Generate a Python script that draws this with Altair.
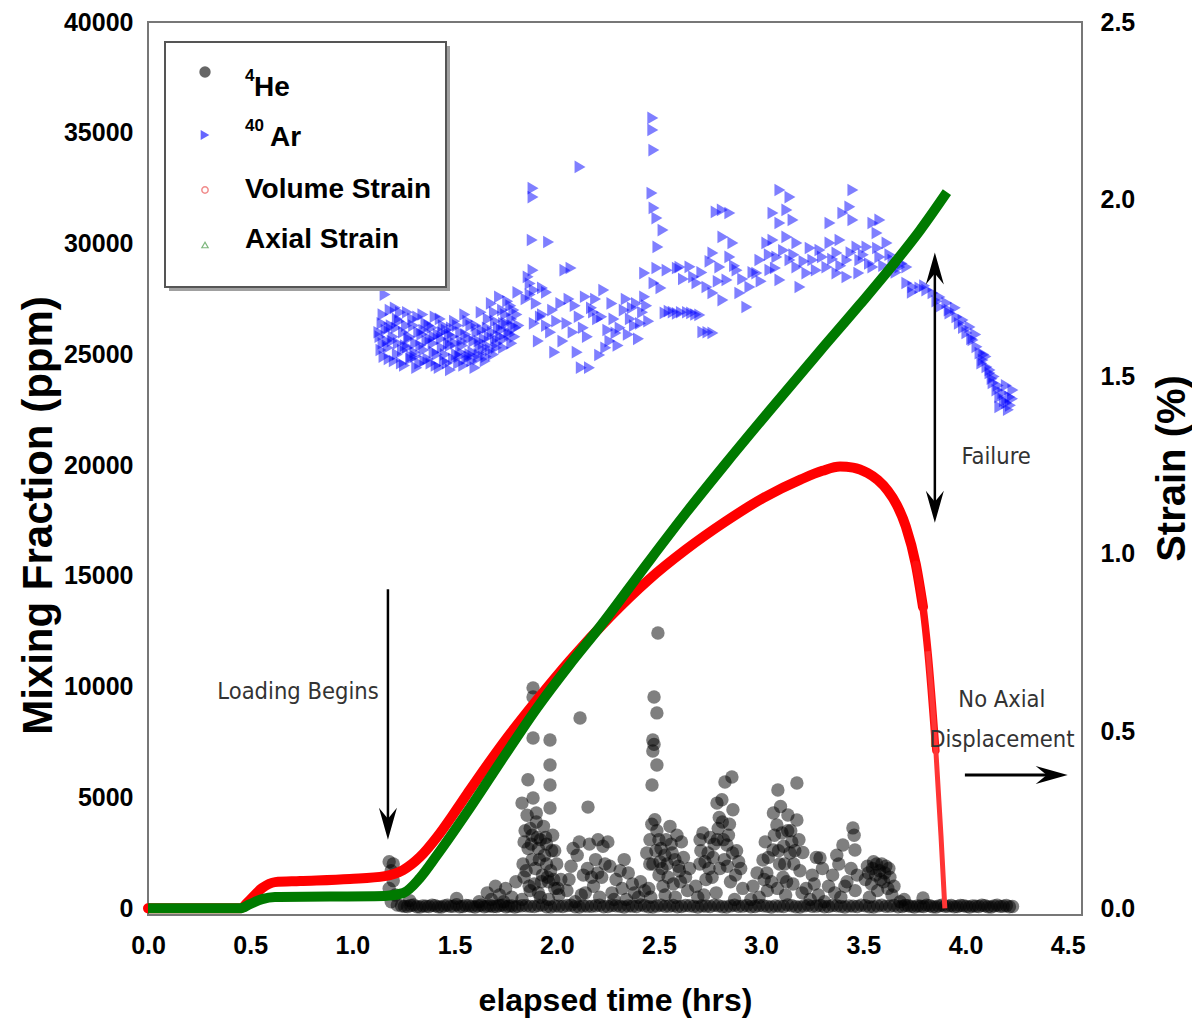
import altair as alt
import pandas as pd

# ---------------- data ----------------
volume_time = [0.0, 0.45, 0.499, 0.558, 0.621, 0.744, 0.988, 1.159, 1.248, 1.331, 1.414, 1.502,
               1.575, 1.737, 1.903, 2.065, 2.260, 2.446, 2.632, 2.823, 3.009, 3.195, 3.300, 3.386,
               3.450, 3.520, 3.571, 3.620, 3.664, 3.708, 3.757, 3.792, 3.816, 3.855, 3.880, 3.899]
volume_strain = [0.0, 0.0, 0.024, 0.057, 0.074, 0.077, 0.083, 0.091, 0.108, 0.145, 0.201, 0.272,
                 0.334, 0.466, 0.588, 0.700, 0.822, 0.925, 1.012, 1.090, 1.157, 1.210, 1.234, 1.246,
                 1.243, 1.228, 1.208, 1.178, 1.138, 1.077, 0.970, 0.850, 0.725, 0.445, 0.205, 0.0]

axial_time = [0.0, 0.45, 0.499, 0.558, 0.621, 1.159, 1.248, 1.331, 1.414, 1.575, 1.737, 1.903,
              2.065, 2.211, 2.446, 2.632, 2.823, 3.043, 3.288, 3.483, 3.645, 3.777, 3.909]
axial_strain = [0.0, 0.0, 0.012, 0.026, 0.032, 0.035, 0.043, 0.086, 0.150, 0.283, 0.424, 0.565,
                0.689, 0.794, 0.975, 1.115, 1.252, 1.405, 1.572, 1.703, 1.815, 1.912, 2.020]

# 4He mixing fraction (hrs, ppm)
he_points = [
    # loading cluster
    (1.18, 2100), (1.19, 1700), (1.20, 1250), (1.18, 900), (1.21, 600), (1.19, 300), (1.22, 150), (1.20, 2000),
    # small bumps
    (1.28, 350), (1.51, 450), (1.62, 300), (1.66, 700), (1.70, 1000), (1.72, 600), (1.75, 900), (1.78, 500),
    (1.80, 1200), (1.74, 300), (1.68, 400),
    # burst 1
    (1.830, 4750), (1.859, 5800), (1.884, 4980), (1.884, 7690), (1.884, 9950), (1.884, 9540), (1.967, 7600),
    (1.967, 6470), (1.967, 5570), (1.967, 4530), (1.90, 3900), (1.87, 3600), (1.92, 3100), (1.94, 2400),
    (1.85, 1700), (1.97, 1700), (2.02, 1300), (1.89, 1100), (1.99, 900), (1.83, 400), (1.95, 2900),
    (1.88, 2200), (1.93, 1500), (1.86, 2700), (1.91, 700), (1.96, 400), (2.00, 2000), (1.84, 3000),
    (1.98, 3300), (1.90, 4300), (1.88, 3300), (1.935, 3700), (1.95, 2000), (1.87, 800), (1.92, 500),
    (2.01, 600), (1.84, 1400), (1.99, 2600), (1.96, 1200), (1.91, 2700),
    (1.835, 2000), (1.845, 3500), (1.855, 4200), (1.865, 1000), (1.875, 2900), (1.895, 1800), (1.905, 3200),
    (1.915, 2200), (1.925, 1200), (1.945, 3200), (1.955, 1400), (1.975, 2600), (1.985, 1300), (2.005, 900),
    # burst 2
    (2.114, 8590), (2.153, 4570), (2.202, 3100), (2.07, 1900), (2.10, 2400), (2.13, 1500), (2.16, 2900),
    (2.18, 1000), (2.05, 800), (2.12, 600), (2.19, 2200), (2.09, 300), (2.15, 1800), (2.21, 500),
    (2.06, 1300), (2.11, 3000), (2.14, 700), (2.17, 1400), (2.08, 2700), (2.20, 1600),
    # burst 3
    (2.226, 2800), (2.236, 2000), (2.26, 1900), (2.29, 1300), (2.32, 900), (2.35, 1600), (2.38, 700),
    (2.41, 1200), (2.25, 3000), (2.28, 400), (2.33, 2200), (2.40, 500), (2.22, 1400), (2.31, 1700),
    (2.37, 1100), (2.27, 700), (2.43, 800), (2.34, 400),
    # burst 4
    (2.495, 12430), (2.476, 9540), (2.49, 8820), (2.47, 7600), (2.476, 7400), (2.47, 7100), (2.49, 6470),
    (2.466, 5570), (2.48, 4000), (2.554, 3700), (2.456, 3100), (2.51, 2700), (2.588, 3300), (2.54, 2000),
    (2.44, 2500), (2.50, 1500), (2.57, 1100), (2.62, 2300), (2.45, 900), (2.53, 600), (2.60, 1700),
    (2.64, 800), (2.47, 2000), (2.56, 2900), (2.49, 3500), (2.529, 2400), (2.578, 2200), (2.61, 3000),
    (2.63, 1400), (2.46, 500), (2.52, 1000), (2.58, 500), (2.65, 1800), (2.50, 3100),
    (2.455, 2000), (2.465, 3800), (2.485, 2600), (2.505, 2100), (2.515, 1800), (2.535, 3100), (2.545, 1400),
    (2.565, 2500), (2.595, 1900), (2.605, 1200),
    # burst 5
    (2.823, 5700), (2.857, 5930), (2.784, 4750), (2.808, 4900), (2.862, 4450), (2.715, 3400), (2.701, 3100),
    (2.79, 3600), (2.833, 2860), (2.798, 1800), (2.88, 2600), (2.90, 1800), (2.74, 2500), (2.76, 1400),
    (2.68, 1000), (2.72, 600), (2.85, 1200), (2.87, 400), (2.82, 2200), (2.75, 3200), (2.91, 900),
    (2.70, 2000), (2.77, 2900), (2.81, 3900), (2.84, 3300), (2.73, 1300), (2.89, 2100), (2.78, 700),
    (2.86, 2500), (2.69, 500),
    (2.705, 2600), (2.725, 2100), (2.745, 1800), (2.765, 2300), (2.785, 3100), (2.795, 4100), (2.815, 3100),
    (2.835, 1900), (2.845, 3800), (2.875, 1500),
    # burst 6
    (3.082, 5340), (3.175, 5660), (3.131, 4210), (3.077, 3760), (3.102, 3400), (3.175, 3990), (3.058, 2630),
    (3.141, 2500), (3.009, 2180), (3.028, 1600), (3.107, 1400), (3.156, 1100), (3.204, 2520), (2.96, 1000),
    (2.99, 500), (3.05, 1200), (3.12, 600), (3.19, 1700), (3.02, 3000), (3.09, 2000), (3.15, 3000),
    (3.06, 4300), (3.11, 2800), (3.16, 2000), (2.98, 1600), (3.03, 800), (3.08, 900), (3.20, 700),
    (3.13, 3500), (2.95, 400),
    (3.015, 1300), (3.035, 2300), (3.065, 3300), (3.085, 2600), (3.095, 4600), (3.115, 2000), (3.125, 1200),
    (3.145, 3500), (3.165, 2600), (3.185, 3100),
    # burst 7
    (3.22, 900), (3.25, 1500), (3.28, 600), (3.30, 1800), (3.33, 1000), (3.24, 400), (3.27, 2300),
    (3.31, 300), (3.288, 2270), (3.26, 1100),
    # burst 8
    (3.449, 3630), (3.455, 3300), (3.40, 2860), (3.459, 2630), (3.35, 1500), (3.38, 2000), (3.42, 1200),
    (3.44, 1800), (3.46, 800), (3.39, 500), (3.37, 2400), (3.41, 1000), (3.47, 1500), (3.36, 700),
    # burst 9
    (3.52, 1900), (3.55, 2100), (3.58, 1700), (3.61, 1900), (3.63, 1400), (3.54, 1100), (3.57, 800),
    (3.60, 1200), (3.64, 600), (3.53, 500), (3.56, 1500), (3.62, 900), (3.59, 2000), (3.51, 1300),
    (3.65, 1000), (3.525, 1600), (3.545, 1800), (3.565, 2000), (3.585, 1300), (3.605, 1600), (3.625, 1800),
    # tail
    (3.792, 470), (3.70, 400), (3.68, 300),
]

# 4He background level (hrs, ppm)
he_background = [
    (1.24, 120), (1.255, 90), (1.27, 80), (1.285, 130), (1.30, 150), (1.315, 70), (1.33, 60), (1.345, 110),
    (1.36, 100), (1.375, 80), (1.39, 140), (1.405, 120), (1.42, 70), (1.435, 60), (1.45, 110), (1.465, 140),
    (1.48, 90), (1.495, 100), (1.51, 160), (1.525, 70), (1.54, 80), (1.555, 130), (1.57, 120), (1.585, 90),
    (1.60, 60), (1.615, 110), (1.63, 140), (1.645, 70), (1.66, 100), (1.675, 120), (1.69, 80), (1.705, 80),
    (1.72, 130), (1.735, 140), (1.75, 70), (1.765, 100), (1.78, 110), (1.795, 60), (1.81, 90), (1.83, 120),
    (1.85, 120), (1.87, 90), (1.89, 80), (1.91, 130), (1.93, 150), (1.95, 70), (1.97, 60), (1.99, 110),
    (2.01, 100), (2.03, 80), (2.05, 130), (2.07, 140), (2.09, 70), (2.11, 60), (2.13, 110), (2.15, 100),
    (2.17, 90), (2.19, 120), (2.21, 140), (2.23, 70), (2.25, 80), (2.27, 130), (2.29, 120), (2.31, 90),
    (2.33, 60), (2.35, 110), (2.37, 100), (2.39, 80), (2.41, 150), (2.43, 120), (2.45, 70), (2.47, 60),
    (2.49, 110), (2.51, 140), (2.53, 90), (2.55, 100), (2.57, 130), (2.59, 70), (2.61, 80), (2.63, 130),
    (2.65, 120), (2.67, 90), (2.69, 60), (2.71, 110), (2.73, 100), (2.75, 80), (2.77, 140), (2.79, 120),
    (2.81, 70), (2.83, 60), (2.85, 110), (2.87, 140), (2.89, 90), (2.91, 100), (2.93, 130), (2.95, 70),
    (2.97, 80), (2.99, 130), (3.01, 120), (3.03, 90), (3.05, 60), (3.07, 110), (3.09, 100), (3.11, 80),
    (3.13, 150), (3.15, 120), (3.17, 70), (3.19, 60), (3.21, 110), (3.23, 140), (3.25, 90), (3.27, 100),
    (3.29, 130), (3.31, 70), (3.33, 80), (3.35, 130), (3.37, 120), (3.39, 90), (3.41, 60), (3.43, 110),
    (3.45, 100), (3.47, 80), (3.49, 140), (3.51, 120), (3.53, 70), (3.55, 60), (3.57, 110), (3.59, 140),
    (3.61, 90), (3.63, 100), (3.65, 130), (3.67, 70), (3.69, 80), (3.705, 130), (3.72, 120), (3.735, 90),
    (3.75, 60), (3.765, 110), (3.78, 100), (3.795, 80), (3.81, 140), (3.825, 120), (3.84, 70), (3.855, 60),
    (3.87, 110), (3.885, 140), (3.90, 90), (3.915, 100), (3.93, 130), (3.945, 70), (3.96, 80), (3.975, 130),
    (3.99, 120), (4.005, 90), (4.02, 60), (4.035, 110), (4.05, 100), (4.065, 80), (4.08, 140), (4.095, 120),
    (4.11, 70), (4.125, 60), (4.14, 110), (4.155, 140), (4.17, 90), (4.185, 100), (4.20, 130), (4.215, 70),
    (4.23, 80),
]

# 40Ar mixing fraction (hrs, ppm)
ar_points = [
    (1.13, 26000), (1.14, 25200), (1.15, 26800), (1.16, 27700), (1.17, 25600), (1.18, 24800), (1.19, 26300),
    (1.20, 25800), (1.21, 27100), (1.22, 25000), (1.23, 26500), (1.24, 24600), (1.25, 26000), (1.26, 25400),
    (1.27, 26900), (1.28, 25800), (1.29, 24900), (1.30, 26300), (1.31, 25500), (1.32, 26700), (1.33, 24600),
    (1.34, 25900), (1.35, 25200), (1.36, 26400), (1.37, 24800), (1.38, 25700), (1.39, 26200), (1.40, 25100),
    (1.41, 24500), (1.42, 25900), (1.43, 26600), (1.44, 25300), (1.45, 24700), (1.46, 26100), (1.47, 25500),
    (1.48, 24300), (1.49, 25800), (1.50, 26500), (1.51, 25000), (1.52, 24600), (1.53, 26000), (1.54, 25400),
    (1.55, 26800), (1.56, 24800), (1.57, 25700), (1.58, 26300), (1.59, 25100), (1.60, 24400), (1.61, 26000),
    (1.62, 25600), (1.63, 26900), (1.64, 25200), (1.65, 24700), (1.66, 26200), (1.67, 25800), (1.68, 27300),
    (1.69, 25000), (1.70, 26500), (1.71, 25500), (1.72, 27600), (1.73, 26100), (1.74, 25300), (1.75, 26800),
    (1.76, 27400), (1.77, 25900), (1.78, 26600), (1.79, 27000), (1.80, 26200), (1.81, 27800),
    (1.15, 25500), (1.18, 26200), (1.22, 26600), (1.27, 25300), (1.31, 24900), (1.35, 26100), (1.40, 25800),
    (1.44, 26000), (1.48, 25400), (1.53, 25100), (1.57, 24900), (1.62, 25000), (1.66, 25400), (1.70, 25700),
    (1.74, 26400), (1.78, 25500),
    (1.135, 25800), (1.145, 26400), (1.155, 24900), (1.165, 26100), (1.175, 25300), (1.185, 27000),
    (1.195, 25600), (1.205, 24700), (1.215, 26200), (1.225, 25500), (1.235, 26900), (1.245, 25200),
    (1.255, 24500), (1.265, 26300), (1.275, 25700), (1.285, 24800), (1.295, 26600), (1.305, 25100),
    (1.315, 24400), (1.325, 26000), (1.335, 25400), (1.345, 26800), (1.355, 24700), (1.365, 25600),
    (1.375, 26300), (1.385, 24600), (1.395, 25500), (1.405, 26700), (1.415, 25000), (1.425, 24400),
    (1.435, 25700), (1.445, 26300), (1.455, 25000), (1.465, 24600), (1.475, 25900), (1.485, 26200),
    (1.495, 24800), (1.505, 25500), (1.515, 26300), (1.525, 24900), (1.535, 25600), (1.545, 24500),
    (1.555, 25900), (1.565, 26500), (1.575, 25000), (1.585, 24700), (1.595, 25600), (1.605, 26300),
    (1.615, 24800), (1.625, 25400), (1.635, 26100), (1.645, 25700), (1.655, 24900), (1.665, 26600),
    (1.675, 25200), (1.685, 26000), (1.695, 26900), (1.705, 25300), (1.715, 26200), (1.725, 25800),
    (1.735, 27000), (1.745, 25700), (1.755, 26400), (1.765, 26000), (1.775, 27200), (1.785, 26300),
    (1.795, 25800), (1.805, 26800), (1.815, 26300),
    (1.86, 28500), (1.884, 28800), (1.88, 30160), (1.884, 32500), (1.884, 32100), (1.96, 30070), (1.87, 27700),
    (1.90, 27300), (1.93, 28000), (1.95, 27800), (1.89, 26400), (1.92, 26700), (1.97, 26000), (1.91, 25600),
    (1.99, 25100), (2.02, 27300), (2.04, 28800), (2.07, 28900), (2.05, 26400), (2.114, 33460), (2.08, 26000),
    (2.10, 25100), (2.14, 27600), (2.17, 27100), (2.20, 26600), (2.22, 26700), (2.25, 26100), (2.27, 27300),
    (2.29, 25970), (2.30, 25400), (2.26, 25600), (2.24, 25300), (2.21, 24970), (2.16, 24400), (2.12, 24400),
    (2.33, 27000), (2.36, 26600), (2.39, 27300), (2.42, 26900), (2.35, 25900), (2.40, 25700), (2.44, 27200),
    (2.38, 26300),
    (1.85, 27500), (1.87, 28200), (1.89, 27900), (1.93, 26800), (1.95, 26300), (1.98, 27000), (2.00, 26500),
    (2.03, 25600), (2.06, 27500), (2.09, 27200), (2.11, 26700), (2.13, 26200), (2.15, 25800), (2.18, 26900),
    (2.19, 27500), (2.23, 27900), (2.28, 26600), (2.31, 26200), (2.34, 27500), (2.37, 27100), (2.41, 26400),
    (2.43, 27600), (2.45, 26500),
    (2.47, 35670), (2.47, 35130), (2.475, 34220), (2.466, 32280), (2.476, 31610), (2.49, 31150), (2.52, 30610),
    (2.495, 29850), (2.43, 28670), (2.49, 28900), (2.54, 28800), (2.59, 28900), (2.476, 28220), (2.51, 28000),
    (2.53, 26870), (2.57, 26910), (2.61, 26900), (2.66, 26870), (2.70, 26780), (2.55, 26950), (2.59, 26850),
    (2.64, 26900), (2.68, 26800), (2.715, 26010), (2.764, 25970), (2.74, 26000),
    (2.603, 28940), (2.652, 28950), (2.686, 28220), (2.735, 28040), (2.764, 27770), (2.813, 27450),
    (2.81, 31520), (2.847, 31380), (2.78, 31430), (2.813, 30300), (2.862, 30030), (2.764, 29580),
    (2.847, 29400), (2.798, 28940), (2.882, 28800), (2.833, 28360), (2.896, 27770), (2.930, 27140),
    (2.945, 28040), (2.979, 28670), (2.994, 29260), (3.028, 30030), (3.058, 30160), (3.092, 32420),
    (3.141, 32100), (3.058, 31380), (3.126, 31520), (3.092, 30930), (3.156, 31070), (3.126, 30300),
    (3.175, 30030), (3.077, 29400), (3.141, 29260), (3.043, 28810), (3.092, 28360), (3.175, 28940),
    (3.224, 28670), (3.190, 28040), (3.253, 29260), (3.288, 29710), (3.337, 30030), (3.386, 30160),
    (3.371, 29580), (3.420, 29260), (3.337, 30930), (3.400, 31380), (3.449, 32420), (3.434, 31660),
    (3.449, 31070), (3.469, 29850), (3.483, 29260), (3.518, 29850), (3.547, 30930), (3.581, 31070),
    (3.567, 30480), (3.616, 30030), (3.581, 29400), (3.645, 29260), (3.679, 28940), (3.713, 28940),
    (3.371, 28670), (3.420, 28490), (3.322, 28940), (3.478, 28670), (3.547, 28940),
    (2.62, 28400), (2.67, 28500), (2.71, 28700), (2.75, 29200), (2.79, 28300), (2.87, 29000), (2.91, 28400),
    (2.96, 28700), (3.00, 28300), (3.04, 29500), (3.07, 28900), (3.11, 29700), (3.16, 29500), (3.21, 29200),
    (3.24, 29800), (3.27, 28800), (3.30, 29400), (3.35, 29300), (3.39, 29000), (3.44, 29600), (3.50, 29500),
    (3.53, 29100), (3.57, 29800), (3.60, 29000), (3.63, 29500), (3.66, 28700), (3.69, 29100),
    (3.713, 28220), (3.743, 28040), (3.777, 28000), (3.811, 27900), (3.841, 27770), (3.875, 27590),
    (3.875, 27140), (3.909, 27320), (3.924, 26860), (3.958, 26690), (3.988, 26550), (4.022, 26240),
    (4.007, 25970), (4.037, 25650), (4.056, 25340), (4.071, 25060), (4.086, 24750), (4.105, 24430),
    (4.120, 24160), (4.135, 23710), (4.154, 23390), (4.168, 23080), (4.183, 23260), (4.217, 23080),
    (4.232, 23390), (4.202, 22810), (4.168, 22630), (3.95, 27100), (3.99, 26200), (4.05, 25900),
    (4.10, 24900), (4.14, 24000), (4.19, 22900), (4.21, 22500), (4.23, 23000), (4.20, 23600),
    (3.74, 27800), (3.80, 28100), (3.86, 27400), (3.92, 27000), (3.97, 26400), (4.03, 25700), (4.08, 24600),
    (4.12, 24300), (4.16, 23600), (4.22, 22700), (4.09, 25000), (4.13, 23900),
]

x_ticks = [0.0, 0.5, 1.0, 1.5, 2.0, 2.5, 3.0, 3.5, 4.0, 4.5]
ppm_ticks = [0, 5000, 10000, 15000, 20000, 25000, 30000, 35000, 40000]
strain_ticks = [0.0, 0.5, 1.0, 1.5, 2.0, 2.5]

legend_names = ["He", "Ar", "Volume Strain", "Axial Strain"]
legend_supers = ["4", "40", "", ""]

# annotation anchors (data units: hrs, ppm)
texts = [("Loading Begins", 0.734, 9760), ("Failure", 4.15, 20370),
         ("No Axial", 4.178, 9400), ("Displacement", 4.178, 7600)]
vertical_shafts = [(1.174, 14400, 4000), (3.85, 28700, 18300)]   # t, top, bottom
down_heads = [(1.174, 3100), (3.85, 17400)]
up_heads = [(3.85, 29600)]
horizontal_shaft = (6020, 3.997, 4.40)   # ppm, start, end
right_heads = [(4.50, 6020)]

# ---------------- frames ----------------
he_df = pd.DataFrame(he_points + he_background, columns=["t", "ppm"])
ar_df = pd.DataFrame(ar_points, columns=["t", "ppm"])
vol_df = pd.DataFrame({"t": volume_time, "strain": volume_strain})
ax_df = pd.DataFrame({"t": axial_time, "strain": axial_strain})
txt_df = pd.DataFrame(texts, columns=["label", "t", "ppm"])
vshaft_df = pd.DataFrame(vertical_shafts, columns=["t", "ppm", "ppm2"])
down_df = pd.DataFrame(down_heads, columns=["t", "ppm"])
up_df = pd.DataFrame(up_heads, columns=["t", "ppm"])
hshaft_df = pd.DataFrame([horizontal_shaft], columns=["ppm", "t", "t2"])
right_df = pd.DataFrame(right_heads, columns=["t", "ppm"])
one = pd.DataFrame({"k": [0]})

BOLD = "Liberation Sans"
ANNOT = "DejaVu Sans Condensed, DejaVu Sans"

x_enc = alt.X("t:Q", scale=alt.Scale(domain=[0, 4.57], nice=False, zero=False),
              axis=alt.Axis(values=x_ticks, format=".1f", title="elapsed time (hrs)",
                            labelFont=BOLD, labelFontSize=25, labelFontWeight="bold",
                            labelPadding=18, labelColor="black", labelFlush=False,
                            titleFont=BOLD, titleFontSize=32, titleFontWeight="bold",
                            titleY=85, titleBaseline="middle", titleColor="black"))

ppm_scale = alt.Scale(domain=[-300, 40000], nice=False, zero=False)
y_left = alt.Y("ppm:Q", scale=ppm_scale,
               axis=alt.Axis(orient="left", values=ppm_ticks, format="d",
                             title="Mixing Fraction (ppm)",
                             labelFont=BOLD, labelFontSize=25, labelFontWeight="bold",
                             labelPadding=15, labelColor="black", labelFlush=False,
                             titleFont=BOLD, titleFontSize=42, titleFontWeight="bold",
                             titleAngle=270, titleX=-110, titleY=493, titleAlign="center",
                             titleBaseline="middle", titleColor="black"))
y_plain = alt.Y("ppm:Q", scale=ppm_scale, axis=None)
y_right = alt.Y("strain:Q", scale=alt.Scale(domain=[-0.01875, 2.5], nice=False, zero=False),
                axis=alt.Axis(orient="right", values=strain_ticks, format=".1f",
                              title="Strain (%)",
                              labelFont=BOLD, labelFontSize=25, labelFontWeight="bold",
                              labelPadding=18, labelColor="black", labelFlush=False,
                              titleFont=BOLD, titleFontSize=40, titleFontWeight="bold",
                              titleAngle=270, titleX=90, titleY=446, titleAlign="center",
                              titleBaseline="middle", titleColor="black"))

he_layer = alt.Chart(he_df).mark_circle(color="black", opacity=0.5, size=180).encode(x=x_enc, y=y_left)
ar_layer = alt.Chart(ar_df).mark_point(shape="triangle-right", filled=True, color="#0000ff",
                                       opacity=0.5, size=160).encode(x=x_enc, y=y_left)
left_group = alt.layer(he_layer, ar_layer)

vol_thick = alt.Chart(vol_df).transform_filter("datum.t <= 3.792").mark_line(
    color="#ff0000", strokeWidth=10, interpolate="monotone", strokeCap="round").encode(x=x_enc, y=y_right)
vol_mid = alt.Chart(vol_df).transform_filter("datum.t >= 3.757 && datum.t <= 3.855").mark_line(
    color="#ff1010", strokeWidth=7.5, interpolate="monotone", strokeCap="round").encode(x=x_enc, y=y_right)
vol_thin = alt.Chart(vol_df).transform_filter("datum.t >= 3.816").mark_line(
    color="#ff3535", strokeWidth=5, interpolate="monotone").encode(x=x_enc, y=y_right)
ax_line = alt.Chart(ax_df).mark_line(color="#007a00", strokeWidth=10,
                                     interpolate="monotone").encode(x=x_enc, y=y_right)
right_group = alt.layer(vol_thick, vol_mid, vol_thin, ax_line)

down_path = "M0,0 L-0.9,-3.2 L0,-2.1 L0.9,-3.2 Z"
up_path = "M0,0 L-0.9,3.2 L0,2.1 L0.9,3.2 Z"
right_path = "M0,0 L-3.2,-0.9 L-2.1,0 L-3.2,0.9 Z"

vshafts = alt.Chart(vshaft_df).mark_rule(color="black", strokeWidth=2.5).encode(
    x=x_enc, y=y_plain, y2="ppm2:Q")
hshaft = alt.Chart(hshaft_df).mark_rule(color="black", strokeWidth=3).encode(
    x=x_enc, x2="t2:Q", y=y_plain)
dheads = alt.Chart(down_df).mark_point(shape=down_path, filled=True, color="black", opacity=1,
                                       size=400, strokeWidth=0).encode(x=x_enc, y=y_plain)
uheads = alt.Chart(up_df).mark_point(shape=up_path, filled=True, color="black", opacity=1,
                                     size=400, strokeWidth=0).encode(x=x_enc, y=y_plain)
rheads = alt.Chart(right_df).mark_point(shape=right_path, filled=True, color="black", opacity=1,
                                        size=400, strokeWidth=0).encode(x=x_enc, y=y_plain)
annot_text = alt.Chart(txt_df).mark_text(font=ANNOT, fontSize=23.5, color="#333333",
                                         align="center", baseline="middle").encode(
    x=x_enc, y=y_plain, text="label:N")

# legend box (drawn in pixel space of the plot area)
leg_layers = [
    alt.Chart(one).mark_rect(fill="#a0a0a0").encode(
        x=alt.value(21), x2=alt.value(302), y=alt.value(24), y2=alt.value(269)),
    alt.Chart(one).mark_rect(fill="white", stroke="#555555", strokeWidth=2).encode(
        x=alt.value(17), x2=alt.value(298), y=alt.value(20), y2=alt.value(265)),
]
sym_specs = [
    dict(shape="circle", filled=True, color="#555555", size=130, opacity=0.9),
    dict(shape="triangle-right", filled=True, color="#5555ff", size=100, opacity=0.9),
    dict(shape="circle", filled=False, color="#f08080", size=40, opacity=0.9, strokeWidth=1.5),
    dict(shape="triangle-up", filled=False, color="#70b070", size=40, opacity=0.9, strokeWidth=1.2),
]
sym_y = [50, 113, 168, 223]
txt_y = [66, 116, 168, 218]
name_x = [106, 122, 97, 97]
for spec, sy, ty, nx, name, sup in zip(sym_specs, sym_y, txt_y, name_x, legend_names, legend_supers):
    leg_layers.append(alt.Chart(one).mark_point(**spec).encode(x=alt.value(57), y=alt.value(sy)))
    leg_layers.append(alt.Chart(one).mark_text(
        text=name, font=BOLD, fontSize=28, fontWeight="bold", color="black",
        align="left", baseline="middle").encode(x=alt.value(nx), y=alt.value(ty)))
    if sup:
        leg_layers.append(alt.Chart(one).mark_text(
            text=sup, font=BOLD, fontSize=17, fontWeight="bold", color="black",
            align="left", baseline="middle").encode(x=alt.value(97), y=alt.value(ty - 12)))

annot_group = alt.layer(vshafts, hshaft, dheads, uheads, rheads, annot_text, *leg_layers)

chart = alt.layer(left_group, right_group, annot_group).resolve_scale(y="independent").properties(
    width=934, height=893,
    autosize=alt.AutoSizeParams(type="none"),
    padding={"left": 140, "top": 14, "right": 110, "bottom": 105},
).configure_view(stroke="#777777", strokeWidth=2).configure_axis(
    grid=False, domain=False, ticks=False)

chart.save("out.html", embed_options={"renderer": "svg", "actions": False})
